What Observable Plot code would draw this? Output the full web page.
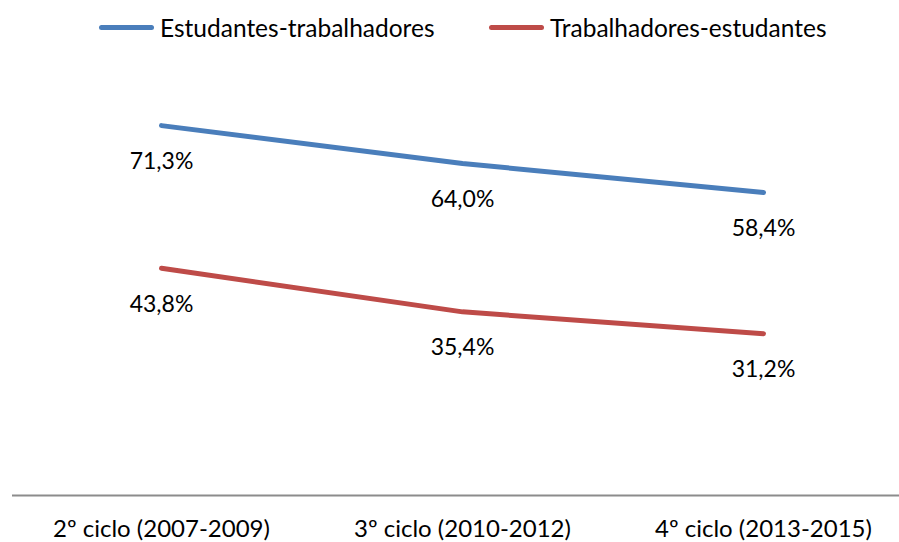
<!DOCTYPE html>
<html>
<head>
<meta charset="utf-8">
<script src="https://cdn.jsdelivr.net/npm/d3@7"></script>
<script src="https://cdn.jsdelivr.net/npm/@observablehq/plot@0.6"></script>
<style>
  html, body { margin: 0; padding: 0; background: #fff; }
  #wrap { position: relative; width: 899px; height: 542px; font-family: Lato, "Open Sans", sans-serif; }
  .leg { position: absolute; top: 12px; height: 30px; display: flex; align-items: center; font-size: 24.5px; color: #000; }
  .sw { width: 55px; height: 5px; border-radius: 3px; margin-right: 6px; }
</style>
</head>
<body>
<div id="wrap"></div>
<script>
const categories = ["2º ciclo (2007-2009)", "3º ciclo (2010-2012)", "4º ciclo (2013-2015)"];
const seriesNames = ["Estudantes-trabalhadores", "Trabalhadores-estudantes"];
const estudantesTrabalhadores = [71.3, 64.0, 58.4];
const trabalhadoresEstudantes = [43.8, 35.4, 31.2];
const colors = ["#4a7ebb", "#be4b48"];

const rows = [];
[estudantesTrabalhadores, trabalhadoresEstudantes].forEach((vals, s) => {
  vals.forEach((v, i) => rows.push({serie: seriesNames[s], cat: categories[i], value: v}));
});
const fmt = v => v.toFixed(1).replace(".", ",") + "%";

const chart = Plot.plot({
  width: 899,
  height: 542,
  marginTop: 80,
  marginBottom: 47,
  marginLeft: 12,
  marginRight: 0,
  style: {fontFamily: "Lato, 'Open Sans', sans-serif", fontSize: "23px", color: "#000", background: "#fff"},
  x: {type: "point", domain: categories, range: [160, 763], padding: 0, label: null},
  y: {domain: [0, 80], axis: null},
  color: {domain: seriesNames, range: colors},
  marks: [
    Plot.ruleY([0], {stroke: "#8c8c8c", strokeWidth: 2}),
    Plot.line(rows, {x: "cat", y: "value", z: "serie", stroke: "serie", strokeWidth: 5, strokeLinecap: "round", strokeLinejoin: "round"}),
    Plot.text(rows, {x: "cat", y: "value", text: d => fmt(d.value), dy: 36, fill: "#000", fontSize: 23}),
    Plot.axisX({tickSize: 0, tickPadding: 24, fontSize: 24, fill: "#000"})
  ]
});

const wrap = document.getElementById("wrap");
wrap.appendChild(chart);
const legPos = [99, 489];
seriesNames.forEach((n, i) => {
  const d = document.createElement("div");
  d.className = "leg";
  d.style.left = legPos[i] + "px";
  d.innerHTML = `<span class="sw" style="background:${colors[i]}"></span><span>${n}</span>`;
  wrap.appendChild(d);
});
</script>
</body>
</html>
